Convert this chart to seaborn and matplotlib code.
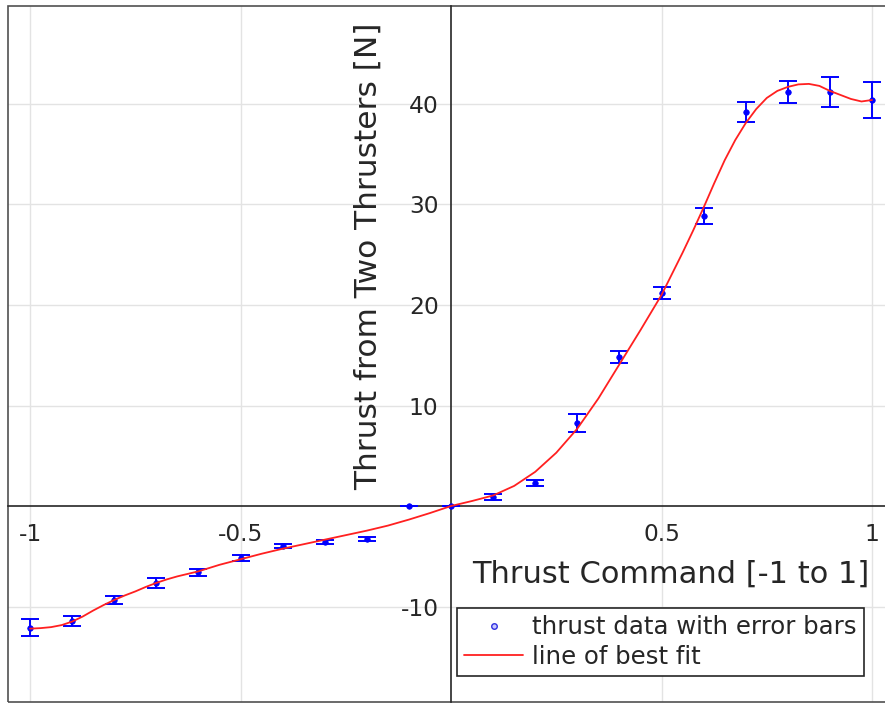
import numpy as np
import pandas as pd
import matplotlib
matplotlib.use("Agg")
import matplotlib.pyplot as plt
from matplotlib.lines import Line2D
from matplotlib.patches import Rectangle
import seaborn as sns

# ---- data ----
cmd = [-1.0, -0.9, -0.8, -0.7, -0.6, -0.5, -0.4, -0.3, -0.2, -0.1,
       0.0, 0.1, 0.2, 0.3, 0.4, 0.5, 0.6, 0.7, 0.8, 0.9, 1.0]
thrust = [-12.1, -11.4, -9.35, -7.7, -6.6, -5.2, -4.0, -3.6, -3.3, 0.0,
          0.0, 0.9, 2.3, 8.3, 14.8, 21.2, 28.9, 39.2, 41.2, 41.2, 40.4]
err = [0.85, 0.5, 0.4, 0.5, 0.35, 0.3, 0.2, 0.2, 0.2, 0.0,
       0.0, 0.3, 0.3, 0.9, 0.6, 0.6, 0.8, 0.95, 1.1, 1.45, 1.8]

fit_x = [-1.0, -0.975, -0.95, -0.925, -0.9, -0.875, -0.85, -0.825, -0.8,
         -0.775, -0.75, -0.725, -0.7, -0.675, -0.65, -0.625, -0.6, -0.55,
         -0.5, -0.45, -0.4, -0.35, -0.3, -0.25, -0.2, -0.15, -0.1, -0.05,
         0.0, 0.05, 0.1, 0.15, 0.2, 0.25, 0.3, 0.35, 0.4, 0.45,
         0.5, 0.55, 0.575, 0.6, 0.625, 0.65, 0.675, 0.7, 0.725, 0.75,
         0.775, 0.8, 0.825, 0.85, 0.875, 0.9, 0.925, 0.95, 0.975, 1.0]
fit_y = [-12.2, -12.15, -12.05, -11.85, -11.5, -11.0, -10.4, -9.85, -9.35,
         -8.9, -8.5, -8.05, -7.65, -7.3, -7.0, -6.75, -6.5, -5.85,
         -5.3, -4.75, -4.25, -3.8, -3.35, -2.9, -2.45, -1.95, -1.35, -0.7,
         0.0, 0.5, 1.05, 2.0, 3.4, 5.3, 7.7, 10.7, 14.1, 17.5,
         21.0, 25.2, 27.4, 29.7, 32.1, 34.4, 36.4, 38.1, 39.5, 40.6,
         41.3, 41.7, 41.95, 42.0, 41.8, 41.3, 40.9, 40.5, 40.25, 40.4]

xticks = [-1, -0.5, 0.5, 1]
xticklabels = ["-1", "-0.5", "0.5", "1"]
yticks = [-10, 10, 20, 30, 40]
yticklabels = ["-10", "10", "20", "30", "40"]

sns.set_style("white")
plt.rcParams['font.family'] = ['DejaVu Sans']

W, H = 885, 704
fig = plt.figure(figsize=(W / 100, H / 100), dpi=100)
# axes extends slightly past the right edge (as in the reference crop)
x0, x1 = -1.0523, 1.0523
y0, y1 = -19.5, 49.75
left_px, right_px = 8, 8 + (x1 - x0) * 421
top_px, bot_px = 6, 702
ax = fig.add_axes([left_px / W, (H - bot_px) / H,
                   (right_px - left_px) / W, (bot_px - top_px) / H])

ink = '#262626'
blue = '#0000ff'
red = '#ff2020'

ax.grid(True, color='#e3e3e3', linewidth=1.0)
ax.set_axisbelow(True)

df_pts = pd.DataFrame({'cmd': cmd, 'thrust': thrust, 'err': err})
df_fit = pd.DataFrame({'x': fit_x, 'y': fit_y})

ax.errorbar(df_pts['cmd'], df_pts['thrust'], yerr=df_pts['err'], fmt='none',
            ecolor=blue, elinewidth=1.4, capsize=6.5, capthick=1.4, zorder=3)
sns.scatterplot(data=df_pts, x='cmd', y='thrust', ax=ax, color=blue, s=16,
                edgecolor=blue, linewidth=0.5, zorder=4, legend=False)
sns.lineplot(data=df_fit, x='x', y='y', ax=ax, color=red, linewidth=1.3,
             sort=False, estimator=None, zorder=5, legend=False)

ax.set_xlim(x0, x1)
ax.set_ylim(y0, y1)

# axes through the origin
for s in ['top', 'right']:
    ax.spines[s].set_visible(False)
ax.spines['left'].set_position(('data', 0))
ax.spines['bottom'].set_position(('data', 0))
for s in ['left', 'bottom']:
    ax.spines[s].set_color(ink)
    ax.spines[s].set_linewidth(1.2)
    ax.spines[s].set_zorder(2.5)

# outer box
ax.add_patch(Rectangle((0, 0), 1, 1, transform=ax.transAxes, fill=False,
                       edgecolor='#505050', linewidth=1.2, clip_on=False,
                       zorder=2))

ax.set_xticks(xticks)
ax.set_xticklabels(xticklabels)
ax.set_yticks(yticks)
ax.set_yticklabels(yticklabels)
ax.tick_params(axis='x', direction='in', length=7, width=1.0, color=ink,
               labelsize=16.8, labelcolor=ink, pad=12)
ax.tick_params(axis='y', direction='in', length=6, width=1.0, color=ink,
               labelsize=16.8, labelcolor=ink, pad=9)

ax.set_xlabel("Thrust Command [-1 to 1]", fontsize=22, color=ink)
ax.xaxis.set_label_coords((671 - left_px) / (right_px - left_px),
                          (bot_px - 574) / (bot_px - top_px))
ax.xaxis.label.set_verticalalignment('center')
ax.set_ylabel("Thrust from Two Thrusters [N]", fontsize=22.5, color=ink)
ax.yaxis.set_label_coords((368 - left_px) / (right_px - left_px),
                          (bot_px - 256) / (bot_px - top_px))
ax.yaxis.label.set_verticalalignment('center')

handles = [Line2D([], [], linestyle='none', marker='o', markersize=4,
                  markerfacecolor='#c8c8ff', markeredgecolor='#3030e0',
                  markeredgewidth=1.0),
           Line2D([], [], color=red, linewidth=1.3)]
leg = fig.legend(handles, ["thrust data with error bars", "line of best fit"],
                 loc='upper left', bbox_to_anchor=(457 / W, 1 - 608 / H),
                 borderaxespad=0, fontsize=17.6, frameon=True, fancybox=False,
                 framealpha=1, edgecolor=ink, labelcolor=ink,
                 handlelength=2.4, handletextpad=0.35, labelspacing=0.22,
                 borderpad=0.3)
leg.get_frame().set_linewidth(1.2)

fig.savefig("out.png", dpi=100)
